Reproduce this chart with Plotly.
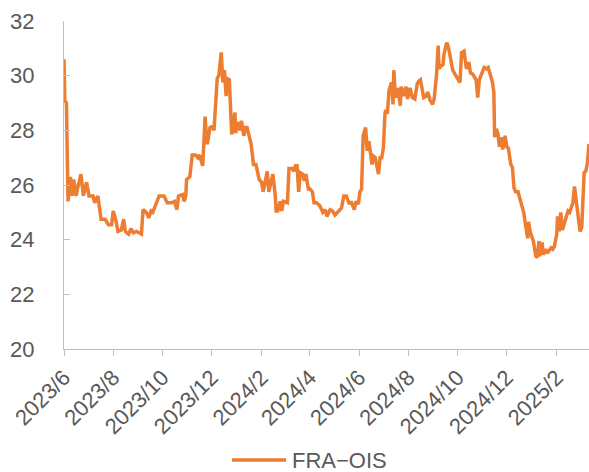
import plotly.graph_objects as go

dates = [
    "2023-06-01", "2023-06-02", "2023-06-04", "2023-06-06", "2023-06-09", "2023-06-11", "2023-06-13",
    "2023-06-16", "2023-06-18", "2023-06-22", "2023-06-25", "2023-06-29", "2023-07-02", "2023-07-07",
    "2023-07-09", "2023-07-13", "2023-07-17", "2023-07-22", "2023-07-26", "2023-07-30", "2023-08-01",
    "2023-08-04", "2023-08-07", "2023-08-11", "2023-08-14", "2023-08-16", "2023-08-20", "2023-08-23",
    "2023-08-26", "2023-08-30", "2023-09-02", "2023-09-05", "2023-09-07", "2023-09-11", "2023-09-14",
    "2023-09-17", "2023-09-19", "2023-09-24", "2023-09-27", "2023-10-03", "2023-10-07", "2023-10-12",
    "2023-10-16", "2023-10-19", "2023-10-21", "2023-10-26", "2023-10-28", "2023-10-30", "2023-10-31",
    "2023-11-04", "2023-11-07", "2023-11-11", "2023-11-14", "2023-11-16", "2023-11-20", "2023-11-21",
    "2023-11-23", "2023-11-25", "2023-11-26", "2023-11-29", "2023-12-02", "2023-12-04", "2023-12-08",
    "2023-12-10", "2023-12-13", "2023-12-15", "2023-12-17", "2023-12-19", "2023-12-20", "2023-12-23",
    "2023-12-26", "2023-12-27", "2023-12-30", "2023-12-31", "2024-01-02", "2024-01-05", "2024-01-07",
    "2024-01-10", "2024-01-12", "2024-01-14", "2024-01-17", "2024-01-19", "2024-01-22", "2024-01-25",
    "2024-01-29", "2024-02-01", "2024-02-03", "2024-02-06", "2024-02-08", "2024-02-10", "2024-02-13",
    "2024-02-15", "2024-02-18", "2024-02-19", "2024-02-21", "2024-02-24", "2024-02-26", "2024-02-28",
    "2024-03-04", "2024-03-06", "2024-03-10", "2024-03-12", "2024-03-14", "2024-03-16", "2024-03-18",
    "2024-03-20", "2024-03-23", "2024-03-25", "2024-03-27", "2024-03-30", "2024-04-01", "2024-04-04",
    "2024-04-06", "2024-04-09", "2024-04-13", "2024-04-17", "2024-04-20", "2024-04-22", "2024-04-26",
    "2024-04-29", "2024-05-02", "2024-05-06", "2024-05-10", "2024-05-13", "2024-05-16", "2024-05-20",
    "2024-05-22", "2024-05-26", "2024-05-28", "2024-05-31", "2024-06-02", "2024-06-04", "2024-06-06",
    "2024-06-09", "2024-06-11", "2024-06-13", "2024-06-17", "2024-06-19", "2024-06-21", "2024-06-25",
    "2024-06-27", "2024-06-29", "2024-07-01", "2024-07-03", "2024-07-04", "2024-07-06", "2024-07-08",
    "2024-07-11", "2024-07-13", "2024-07-14", "2024-07-16", "2024-07-19", "2024-07-22", "2024-07-23",
    "2024-07-26", "2024-07-29", "2024-07-31", "2024-08-03", "2024-08-06", "2024-08-09", "2024-08-12",
    "2024-08-14", "2024-08-16", "2024-08-20", "2024-08-23", "2024-08-25", "2024-08-28", "2024-08-31",
    "2024-09-02", "2024-09-05", "2024-09-07", "2024-09-08", "2024-09-10", "2024-09-13", "2024-09-14",
    "2024-09-17", "2024-09-18", "2024-09-20", "2024-09-23", "2024-09-25", "2024-09-28", "2024-10-02",
    "2024-10-04", "2024-10-06", "2024-10-09", "2024-10-12", "2024-10-15", "2024-10-17", "2024-10-20",
    "2024-10-24", "2024-10-26", "2024-10-28", "2024-10-31", "2024-11-03", "2024-11-06", "2024-11-08",
    "2024-11-11", "2024-11-13", "2024-11-15", "2024-11-16", "2024-11-18", "2024-11-20", "2024-11-22",
    "2024-11-24", "2024-11-26", "2024-11-28", "2024-11-29", "2024-12-01", "2024-12-03", "2024-12-06",
    "2024-12-08", "2024-12-10", "2024-12-12", "2024-12-15", "2024-12-18", "2024-12-19", "2024-12-22",
    "2024-12-24", "2024-12-27", "2024-12-28", "2024-12-30", "2025-01-03", "2025-01-06", "2025-01-08",
    "2025-01-10", "2025-01-11", "2025-01-14", "2025-01-15", "2025-01-18", "2025-01-20", "2025-01-25",
    "2025-01-27", "2025-01-29", "2025-02-01", "2025-02-02", "2025-02-04", "2025-02-06", "2025-02-08",
    "2025-02-10", "2025-02-15", "2025-02-17", "2025-02-19", "2025-02-21", "2025-02-23", "2025-02-25",
    "2025-02-28", "2025-03-02", "2025-03-04", "2025-03-07", "2025-03-09", "2025-03-11", "2025-03-13",
]

fra_ois = [
    30.6, 29.1, 29.0, 25.4, 26.3, 25.6, 26.2,
    25.6, 25.9, 26.4, 25.6, 26.1, 25.6, 25.6,
    25.35, 25.6, 24.75, 24.75, 24.55, 24.55, 25.05,
    24.75, 24.3, 24.35, 24.75, 24.3, 24.2, 24.4,
    24.25, 24.3, 24.25, 24.2, 25.1, 25.0, 24.8,
    25.05, 25.0, 25.4, 25.6, 25.6, 25.35, 25.35,
    25.4, 25.1, 25.6, 25.65, 25.4, 25.6, 26.2,
    26.3, 27.1, 27.1, 27.0, 27.1, 26.7, 27.3,
    28.5, 27.55, 27.55, 28.1, 28.15, 28.0, 29.9,
    30.0, 30.85, 29.75, 30.2, 29.25, 29.9, 29.85,
    27.85, 28.0, 28.65, 27.9, 28.3, 28.0, 28.35,
    27.8, 28.1, 28.1, 27.65, 27.5, 26.75, 26.75,
    26.2, 26.1, 25.75, 26.2, 26.5, 25.75, 26.1,
    26.4, 25.6, 25.05, 25.05, 25.4, 25.05, 25.4,
    25.35, 26.6, 26.6, 26.5, 26.7, 26.7, 25.75,
    26.45, 26.4, 26.15, 26.4, 25.85, 25.85, 25.75,
    25.35, 25.35, 25.25, 25.0, 25.1, 24.85, 25.1,
    25.05, 24.9, 25.05, 25.15, 25.6, 25.6, 25.3,
    25.4, 25.1, 25.4, 25.3, 25.75, 25.85, 27.8,
    28.1, 27.25, 27.6, 26.75, 27.05, 27.0, 26.4,
    27.0, 27.0, 27.35, 28.6, 28.75, 28.6, 29.45,
    29.75, 28.95, 30.2, 29.2, 29.55, 28.9, 29.6,
    29.25, 29.6, 29.15, 29.55, 29.2, 29.15, 29.7,
    29.8, 29.85, 29.2, 29.25, 29.4, 29.1, 28.95,
    29.15, 30.05, 31.1, 30.25, 30.35, 30.4, 30.75,
    31.15, 31.2, 31.0, 30.4, 30.2, 30.05, 29.85,
    29.75, 30.85, 30.9, 30.25, 30.5, 30.1, 30.05,
    29.85, 29.2, 29.85, 30.1, 30.3, 30.25, 30.3,
    30.0, 29.8, 29.4, 27.75, 28.05, 27.9, 27.4,
    27.75, 27.3, 27.75, 27.8, 27.4, 27.35, 26.75,
    26.65, 25.9, 25.75, 25.75, 25.45, 25.35, 25.0,
    24.6, 24.05, 24.65, 24.3, 23.95, 23.4, 23.35,
    23.95, 23.4, 23.9, 23.45, 23.65, 23.5, 23.7,
    23.65, 23.75, 24.2, 24.85, 24.3, 25.0, 24.35,
    24.55, 25.05, 25.0, 25.2, 25.35, 25.95, 25.35,
    24.75, 24.3, 24.45, 26.45, 26.5, 26.8, 27.5,
]

series_name = "FRA\u2212OIS"
y_ticks = [20, 22, 24, 26, 28, 30, 32]

FONT = "Liberation Sans, Arial, sans-serif"
TXT = "#595959"
AX = "#BFBFBF"
LINE = "#ED7D31"

fig = go.Figure()
fig.add_trace(go.Scatter(
    x=dates, y=fra_ois, mode="lines", name=series_name,
    line=dict(color=LINE, width=3.5), showlegend=False,
))

# legend drawn manually (long key line like the original)
legend_y = -(460 - 349) / 328
fig.add_shape(type="line", xref="paper", yref="paper",
              x0=(232 - 64) / 525, x1=(286 - 64) / 525,
              y0=legend_y, y1=legend_y,
              line=dict(color=LINE, width=3.5))
fig.add_annotation(text=series_name, xref="paper", yref="paper",
                   x=(290 - 64) / 525, y=legend_y, height=20,
                   xanchor="left", yanchor="middle", showarrow=False,
                   font=dict(family=FONT, size=22, color=TXT))

fig.update_layout(
    width=589, height=472,
    margin=dict(l=64, r=0, t=21, b=123),
    paper_bgcolor="white", plot_bgcolor="white",
    font=dict(family=FONT, size=22, color=TXT),
    showlegend=False,
    xaxis=dict(
        type="date", range=["2023-06-01", "2025-03-13"], automargin=False,
        tick0="2023-06-01", dtick="M2", tickformat="%Y/%-m", tickangle=-45,
        showgrid=False, zeroline=False,
        showline=True, linecolor=AX, linewidth=1,
        ticks="outside", ticklen=6, tickcolor=AX, tickwidth=1,
        tickfont=dict(family=FONT, size=22, color=TXT),
    ),
    yaxis=dict(
        range=[20, 32], tickvals=y_ticks, automargin=False,
        showgrid=False, zeroline=False,
        showline=True, linecolor=AX, linewidth=1,
        ticks="inside", ticklen=6, tickcolor=AX, tickwidth=1,
        ticklabelstandoff=24,
        tickfont=dict(family=FONT, size=22, color=TXT),
    ),
)

fig.write_html(
    "out.html",
    config={"displayModeBar": False},
    post_script="document.body.style.margin='0';document.body.style.overflow='hidden';",
)
